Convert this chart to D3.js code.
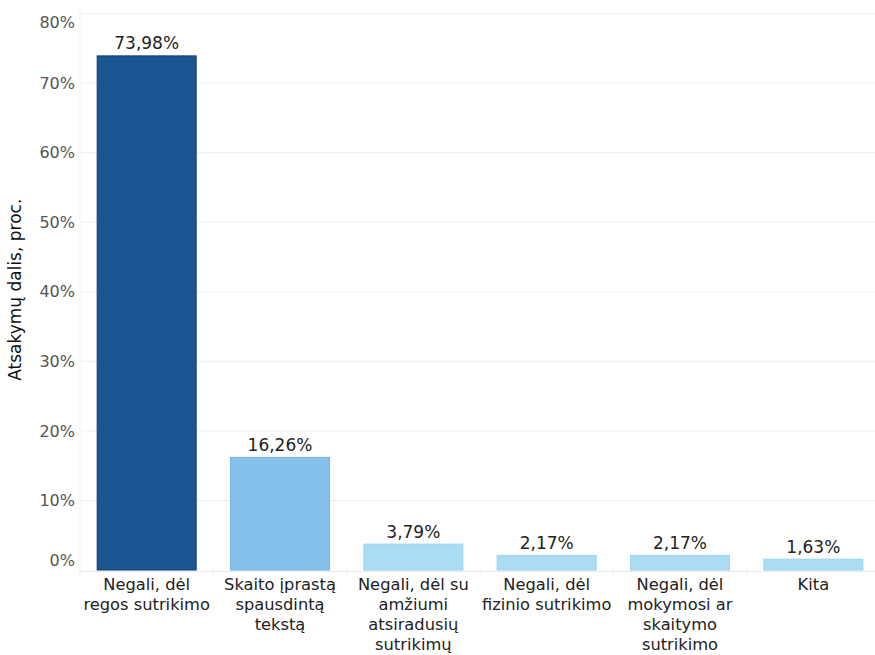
<!DOCTYPE html>
<html>
<head>
<meta charset="utf-8">
<script src="https://cdn.jsdelivr.net/npm/d3@7"></script>
<style>
  html, body { margin: 0; padding: 0; background: #fff; }
  svg { display: block; font-family: Tahoma, "DejaVu Sans", Verdana, sans-serif; }
</style>
</head>
<body>
<svg id="chart" width="875" height="655"></svg>
<script>
// Response shares by reason (percent)
const categories = [
  ["Negali, dėl", "regos sutrikimo"],
  ["Skaito įprastą", "spausdintą", "tekstą"],
  ["Negali, dėl su", "amžiumi", "atsiradusių", "sutrikimų"],
  ["Negali, dėl", "fizinio sutrikimo"],
  ["Negali, dėl", "mokymosi ar", "skaitymo", "sutrikimo"],
  ["Kita"]
];
const values = [73.98, 16.26, 3.79, 2.17, 2.17, 1.63];
const valueLabels = ["73,98%", "16,26%", "3,79%", "2,17%", "2,17%", "1,63%"];
const yTicks = [0, 10, 20, 30, 40, 50, 60, 70, 80];
const fills = ["#1a5591", "#85c1eb", "#acdbf4", "#acdbf4", "#acdbf4", "#acdbf4"];
const strokes = ["#103f72", "#74b4e2", "#9fd2ef", "#9fd2ef", "#9fd2ef", "#9fd2ef"];
const yTitle = "Atsakymų dalis, proc.";

const svg = d3.select("#chart");
const mLeft = 80, mRight = 880, mTop = 13.5, mBottom = 570;

const x = d3.scaleBand().domain(d3.range(categories.length)).range([mLeft, mRight]).paddingInner(0.25).paddingOuter(0.125);
const y = d3.scaleLinear().domain([0, 80]).range([mBottom, mTop]);

// gridlines
svg.append("g").selectAll("line").data(yTicks.filter(t => t > 0)).join("line")
  .attr("x1", mLeft).attr("x2", 875)
  .attr("y1", d => y(d)).attr("y2", d => y(d))
  .attr("stroke", "#efefef").attr("stroke-width", 1);

// y axis tick labels (end labels nudged inward so they stay inside the pane)
const yAxis = d3.axisLeft(y).tickValues(yTicks).tickSize(0).tickPadding(5).tickFormat(d => d + "%");
const gy = svg.append("g").attr("transform", `translate(${mLeft},0)`).call(yAxis);
gy.select(".domain").remove();
gy.selectAll("text").attr("font-size", 16).attr("fill", "#555").attr("font-family", "Tahoma, 'DejaVu Sans', sans-serif")
  .attr("dy", d => d === 80 ? "0.9em" : d === 0 ? "-0.3em" : "0.32em");

// faint vertical axis line
svg.append("line").attr("x1", mLeft).attr("x2", mLeft).attr("y1", mTop - 5).attr("y2", mBottom + 3)
  .attr("stroke", "#f3f3f3");

// bars
svg.append("g").selectAll("rect").data(values).join("rect")
  .attr("x", (d, i) => x(i) + 0.5)
  .attr("width", x.bandwidth() - 1)
  .attr("y", d => y(d) + 0.5)
  .attr("height", d => mBottom - y(d) - 0.5)
  .attr("fill", (d, i) => fills[i])
  .attr("stroke", (d, i) => strokes[i]);

// value labels
svg.append("g").selectAll("text").data(values).join("text")
  .attr("x", (d, i) => x(i) + x.bandwidth() / 2)
  .attr("y", d => y(d) - 6)
  .attr("text-anchor", "middle")
  .attr("font-size", 17)
  .attr("fill", "#222")
  .text((d, i) => valueLabels[i]);

// x axis baseline and category separators
svg.append("line").attr("x1", mLeft).attr("x2", 875).attr("y1", mBottom + 1.5).attr("y2", mBottom + 1.5)
  .attr("stroke", "#e8e8e8");
const step = x.step();
svg.append("g").selectAll("line").data(d3.range(categories.length + 1)).join("line")
  .attr("x1", i => mLeft + i * step).attr("x2", i => mLeft + i * step)
  .attr("y1", mBottom + 1).attr("y2", mBottom + 5)
  .attr("stroke", "#e8e8e8");

// category labels
const cat = svg.append("g").selectAll("text").data(categories).join("text")
  .attr("x", (d, i) => x(i) + x.bandwidth() / 2)
  .attr("y", mBottom + 20)
  .attr("text-anchor", "middle")
  .attr("font-size", 16.3)
  .attr("fill", "#222");
cat.selectAll("tspan").data(d => d).join("tspan")
  .attr("x", function () { return d3.select(this.parentNode).attr("x"); })
  .attr("dy", (d, j) => j === 0 ? 0 : 20)
  .text(d => d);

// y axis title
svg.append("text")
  .attr("transform", `translate(21,${(mTop + mBottom) / 2 - 2}) rotate(-90)`)
  .attr("text-anchor", "middle")
  .attr("font-size", 17)
  .attr("fill", "#111")
  .text(yTitle);
</script>
</body>
</html>
